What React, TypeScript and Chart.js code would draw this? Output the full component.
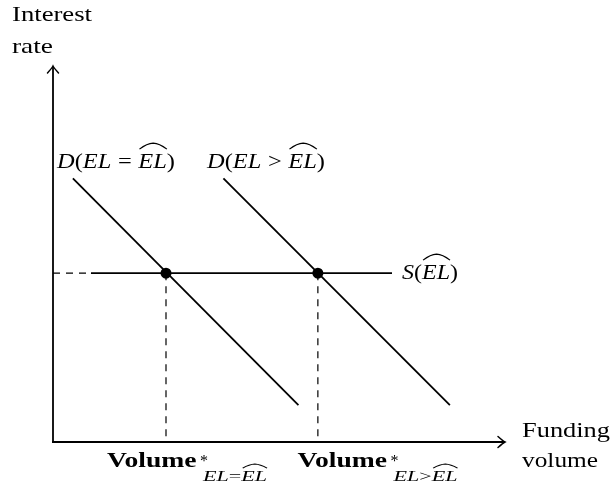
import React, { useEffect, useRef } from "react";
import { Chart, registerables } from "chart.js";

Chart.register(...registerables);

// ---- data (axis units 0..10) ----
const axisMax = 10;
const demandLowX = [0.44, 5.43];
const demandLowY = [7.01, 0.98];
const demandHighX = [3.77, 8.78];
const demandHighY = [7.01, 0.98];
const supplyX = [0.84, 7.5];
const supplyRate = 4.49;
const equilibriumVolume = [2.5, 5.86];
const equilibriumRate = [4.49, 4.49];

const yAxisTitle = ["Interest", "rate"];
const xAxisTitle = ["Funding", "volume"];

const SERIF = '"Liberation Serif", serif';
const rm = (s: number) => `${s}px ${SERIF}`;
const it = (s: number) => `italic ${s}px ${SERIF}`;
const bf = (s: number) => `bold ${s}px ${SERIF}`;

type Seg = { t?: string; font?: string; size?: number; hat?: boolean; gap?: number };

function drawHat(ctx: CanvasRenderingContext2D, x0: number, x1: number, size: number) {
  const cap = size * 0.66;
  const base = -cap - size * 0.2;
  const peak = base - size * 0.27;
  const mid = (x0 + x1) / 2;
  ctx.save();
  ctx.lineWidth = Math.max(0.9, size * 0.05);
  ctx.beginPath();
  ctx.moveTo(x0, base);
  ctx.quadraticCurveTo(x0 + (mid - x0) * 0.55, peak + 0.3, mid, peak);
  ctx.quadraticCurveTo(x1 - (x1 - mid) * 0.55, peak + 0.3, x1, base);
  ctx.stroke();
  ctx.restore();
}

function drawRun(
  ctx: CanvasRenderingContext2D,
  segs: Seg[],
  x: number,
  y: number,
  targetW?: number
) {
  let w = 0;
  for (const s of segs) {
    if (s.gap) {
      w += s.gap;
      continue;
    }
    ctx.font = s.font!;
    w += ctx.measureText(s.t!).width;
  }
  const k = targetW ? targetW / w : 1;
  ctx.save();
  ctx.translate(x, y);
  ctx.scale(k, 1);
  ctx.fillStyle = "#000";
  ctx.strokeStyle = "#000";
  ctx.textBaseline = "alphabetic";
  ctx.textAlign = "left";
  let cx = 0;
  for (const s of segs) {
    if (s.gap) {
      cx += s.gap;
      continue;
    }
    ctx.font = s.font!;
    const mw = ctx.measureText(s.t!).width;
    ctx.fillText(s.t!, cx, 0);
    if (s.hat) drawHat(ctx, cx + 1, cx + mw, s.size || 22);
    cx += mw;
  }
  ctx.restore();
}

function arrowHead(ctx: CanvasRenderingContext2D, tx: number, ty: number, dir: "up" | "right") {
  ctx.save();
  ctx.lineWidth = 1.5;
  ctx.lineCap = "round";
  ctx.beginPath();
  if (dir === "right") {
    ctx.moveTo(tx - 7, ty - 5.5);
    ctx.quadraticCurveTo(tx - 2, ty - 1, tx, ty);
    ctx.quadraticCurveTo(tx - 2, ty + 1, tx - 7, ty + 5.5);
  } else {
    ctx.moveTo(tx - 5.5, ty + 7);
    ctx.quadraticCurveTo(tx - 1, ty + 2, tx, ty);
    ctx.quadraticCurveTo(tx + 1, ty + 2, tx + 5.5, ty + 7);
  }
  ctx.stroke();
  ctx.restore();
}

const overlayPlugin = {
  id: "diagramOverlay",
  afterDatasetsDraw(chart: any) {
    const ctx: CanvasRenderingContext2D = chart.ctx;
    const { left, right, top, bottom } = chart.chartArea;
    ctx.save();
    ctx.strokeStyle = "#000";
    ctx.lineWidth = 1.8;
    ctx.setLineDash([]);
    ctx.beginPath();
    ctx.moveTo(left, bottom + 0.9);
    ctx.lineTo(left, top + 1);
    ctx.stroke();
    arrowHead(ctx, left, top, "up");
    ctx.beginPath();
    ctx.moveTo(left - 0.9, bottom);
    ctx.lineTo(right - 1, bottom);
    ctx.stroke();
    arrowHead(ctx, right, bottom, "right");
    ctx.restore();

    drawRun(ctx, [{ t: yAxisTitle[0], font: rm(22) }], 12, 21, 80);
    drawRun(ctx, [{ t: yAxisTitle[1], font: rm(22) }], 12, 53, 41);
    drawRun(ctx, [{ t: xAxisTitle[0], font: rm(22) }], 522, 437, 88);
    drawRun(ctx, [{ t: xAxisTitle[1], font: rm(22) }], 522, 467, 76);

    const dLabel = (rel: string): Seg[] => [
      { t: "D", font: it(22) },
      { t: "(", font: rm(22) },
      { t: "EL", font: it(22) },
      { gap: 6 },
      { t: rel, font: rm(22) },
      { gap: 6 },
      { t: "EL", font: it(22), hat: true, size: 22 },
      { t: ")", font: rm(22) },
    ];
    drawRun(ctx, dLabel("="), 57, 168, 118);
    drawRun(ctx, dLabel(">"), 207, 168, 118);
    drawRun(
      ctx,
      [
        { t: "S", font: it(22) },
        { t: "(", font: rm(22) },
        { t: "EL", font: it(22), hat: true, size: 22 },
        { t: ")", font: rm(22) },
      ],
      402,
      279,
      56
    );

    const volLabel = (x: number, rel: string) => {
      drawRun(ctx, [{ t: "Volume", font: bf(20) }], x, 467, 89.5);
      drawRun(ctx, [{ t: "*", font: rm(17) }], x + 93, 466, 8);
      drawRun(
        ctx,
        [
          { t: "EL", font: it(15) },
          { t: rel, font: rm(15) },
          { t: "EL", font: it(15), hat: true, size: 15 },
        ],
        x + 96,
        481,
        64
      );
    };
    volLabel(107, "=");
    volLabel(297.5, ">");
  },
};

export default function App() {
  const canvasRef = useRef<HTMLCanvasElement | null>(null);

  useEffect(() => {
    const canvas = canvasRef.current;
    if (!canvas) return;
    let chart: Chart | null = null;
    let cancelled = false;
    const pts = (xs: number[], ys: number[]) => xs.map((x, i) => ({ x, y: ys[i] }));
    const black = "#000";
    const build = () => {
      if (cancelled) return;
      chart = new Chart(canvas, {
        type: "scatter",
        data: {
          datasets: [
            {
              label: "D(EL = EL^)",
              data: pts(demandLowX, demandLowY),
              showLine: true,
              borderColor: black,
              borderWidth: 1.8,
              pointRadius: 0,
              clip: false,
            } as any,
            {
              label: "D(EL > EL^)",
              data: pts(demandHighX, demandHighY),
              showLine: true,
              borderColor: black,
              borderWidth: 1.8,
              pointRadius: 0,
              clip: false,
            },
            {
              label: "S(EL^)",
              data: pts(supplyX, [supplyRate, supplyRate]),
              showLine: true,
              borderColor: black,
              borderWidth: 1.8,
              pointRadius: 0,
              clip: false,
            },
            {
              label: "rate guide",
              data: pts([0, supplyX[0]], [supplyRate, supplyRate]),
              showLine: true,
              borderColor: black,
              borderWidth: 1.2,
              borderDash: [7, 6],
              pointRadius: 0,
              clip: false,
            },
            ...equilibriumVolume.map((v, i) => ({
              label: "volume guide " + i,
              data: pts([v, v], [equilibriumRate[i], 0]),
              showLine: true,
              borderColor: black,
              borderWidth: 1.2,
              borderDash: [7, 6],
              pointRadius: 0,
              clip: false,
            })),
            {
              label: "equilibria",
              data: pts(equilibriumVolume, equilibriumRate),
              showLine: false,
              pointRadius: 5.5,
              pointBackgroundColor: black,
              pointBorderColor: black,
              pointBorderWidth: 0,
              clip: false,
            },
          ],
        },
        options: {
          responsive: false,
          animation: false,
          events: [],
          layout: { padding: { left: 53, right: 106, top: 66, bottom: 45 } },
          plugins: {
            legend: { display: false },
            tooltip: { enabled: false },
            title: { display: false },
          },
          scales: {
            x: { type: "linear", min: 0, max: axisMax, display: false },
            y: { type: "linear", min: 0, max: axisMax, display: false },
          },
        },
        plugins: [overlayPlugin],
      });
    };
    const fonts = (document as any).fonts;
    if (fonts && fonts.load) {
      Promise.all([
        fonts.load(rm(22)),
        fonts.load(it(22)),
        fonts.load(bf(20)),
      ])
        .catch(() => null)
        .then(build);
    } else {
      build();
    }
    return () => {
      cancelled = true;
      if (chart) chart.destroy();
    };
  }, []);

  return (
    <div style={{ position: "absolute", left: 0, top: 0, width: 611, height: 487, background: "#fff" }}>
      <canvas ref={canvasRef} width={611} height={487} style={{ display: "block" }} />
    </div>
  );
}
